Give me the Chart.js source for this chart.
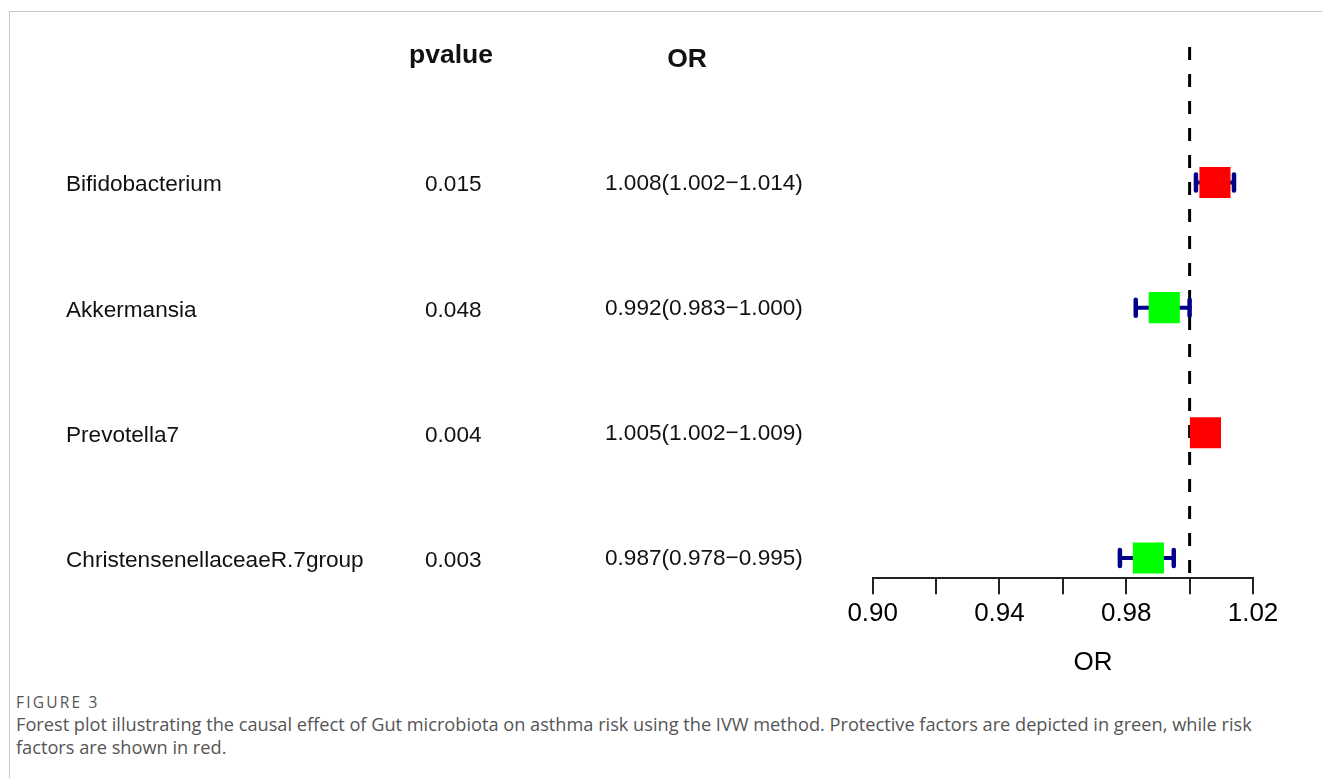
<!DOCTYPE html>
<html>
<head>
<meta charset="utf-8">
<script src="https://cdn.jsdelivr.net/npm/chart.js@4.4.1/dist/chart.umd.min.js"></script>
<style>
  html, body { margin: 0; padding: 0; background: #fff; width: 1322px; height: 778px; overflow: hidden; }
  #frame { position: absolute; left: 9px; top: 11px; width: 1320px; height: 780px;
           border-left: 1px solid #c6c6c6; border-top: 1px solid #c6c6c6; }
  #plot { position: absolute; left: 0; top: 0; width: 1322px; height: 690px; }
  #caption { position: absolute; left: 16px; top: 693px; width: 1290px;
             font-family: "Open Sans", "Noto Sans", sans-serif; color: #555; }
  #caption .fig { font-size: 15.5px; letter-spacing: 2.2px; line-height: 19px; }
  #caption .txt { font-size: 18.2px; line-height: 23px; margin-top: 1px; white-space: nowrap; }
</style>
</head>
<body>
<div id="frame"></div>
<div id="plot"><canvas id="forest" width="1322" height="690"></canvas></div>
<div id="caption">
  <div class="fig">FIGURE 3</div>
  <div class="txt">Forest plot illustrating the causal effect of Gut microbiota on asthma risk using the IVW method. Protective factors are depicted in green, while risk<br>factors are shown in red.</div>
</div>
<script>
// Forest plot data (IVW estimates)
const taxa = ['Bifidobacterium', 'Akkermansia', 'Prevotella7', 'ChristensenellaceaeR.7group'];
const pvalues = ['0.015', '0.048', '0.004', '0.003'];
const oddsRatios = [1.008, 0.992, 1.005, 0.987];
const ciLower = [1.002, 0.983, 1.002, 0.978];
const ciUpper = [1.014, 1.000, 1.009, 0.995];
const columnHeaders = ['pvalue', 'OR'];
const xAxisTitle = 'OR';
const xTickValues = [0.90, 0.92, 0.94, 0.96, 0.98, 1.00, 1.02];
const xTickLabels = ['0.90', '', '0.94', '', '0.98', '', '1.02'];
const nullEffect = 1.00;

const FONT = '"Liberation Sans", Arial, Helvetica, sans-serif';
const rowPos = taxa.map((_, i) => taxa.length - i);
const Y_MIN = 0.8375, Y_MAX = 5.0825;
const CANVAS_H = 690, AREA_BOTTOM = 578.3;

const fmt = v => v.toFixed(3);
const orLabel = i => fmt(oddsRatios[i]) + '(' + fmt(ciLower[i]) + '\u2212' + fmt(ciUpper[i]) + ')';

// Boxes: green for protective (OR < 1), red for risk
const boxes = {
  type: 'scatter',
  data: oddsRatios.map((v, i) => ({ x: v, y: rowPos[i] })),
  pointStyle: 'rect',
  pointRadius: 22,
  pointHoverRadius: 22,
  pointBackgroundColor: oddsRatios.map(v => v < 1 ? '#00ff00' : '#ff0000'),
  pointBorderWidth: 0,
  order: 0
};

// Confidence interval whiskers with end caps
const whiskers = taxa.map((_, i) => ({
  type: 'line',
  data: [{ x: ciLower[i], y: rowPos[i] }, { x: ciUpper[i], y: rowPos[i] }],
  borderColor: '#00008b',
  borderWidth: 4,
  borderCapStyle: 'round',
  pointStyle: 'line',
  rotation: 90,
  pointRadius: 8,
  pointHoverRadius: 8,
  pointBorderWidth: 4.5,
  pointBorderColor: '#00008b',
  order: 1,
  isWhisker: true
}));

// Dashed reference line at OR = 1
const refLine = {
  type: 'line',
  data: [{ x: nullEffect, y: Y_MAX }, { x: nullEffect, y: Y_MIN }],
  borderColor: '#000',
  borderWidth: 3,
  borderDash: [13, 14],
  pointRadius: 0,
  order: 2
};

const roundCaps = {
  id: 'roundCaps',
  beforeDatasetDraw(chart, args) {
    if (chart.data.datasets[args.index].isWhisker) chart.ctx.lineCap = 'round';
  },
  afterDatasetDraw(chart) { chart.ctx.lineCap = 'butt'; }
};

const tableText = {
  id: 'tableText',
  afterDraw(chart) {
    const ctx = chart.ctx;
    const ys = chart.scales.y;
    ctx.save();
    ctx.fillStyle = '#111';
    ctx.textBaseline = 'alphabetic';
    ctx.textAlign = 'center';
    ctx.font = 'bold 26.5px ' + FONT;
    ctx.fillText(columnHeaders[0], 451, 63);
    ctx.fillText(columnHeaders[1], 687, 67);
    ctx.textAlign = 'left';
    ctx.font = '22.6px ' + FONT;
    taxa.forEach((name, i) => {
      const py = ys.getPixelForValue(rowPos[i]);
      ctx.fillText(name, 66, py + 9);
      ctx.fillText(pvalues[i], 425, py + 9);
      ctx.fillText(orLabel(i), 605, py + 7.5);
    });
    ctx.textAlign = 'center';
    ctx.font = '26px ' + FONT;
    ctx.fillStyle = '#000';
    ctx.fillText(xAxisTitle, 1093, 670);
    ctx.restore();
  }
};

new Chart(document.getElementById('forest'), {
  type: 'scatter',
  data: { datasets: [boxes, ...whiskers, refLine] },
  options: {
    responsive: false,
    animation: false,
    events: [],
    layout: { padding: { left: 872.7, right: 69, top: 47, bottom: 0 } },
    plugins: { legend: { display: false }, tooltip: { enabled: false } },
    scales: {
      x: {
        type: 'linear',
        min: 0.90,
        max: 1.02,
        afterBuildTicks: s => { s.ticks = xTickValues.map(v => ({ value: v })); },
        afterFit: s => { s.height = CANVAS_H - AREA_BOTTOM; },
        ticks: {
          autoSkip: false,
          maxRotation: 0,
          padding: 4,
          color: '#000',
          font: { family: FONT, size: 26 },
          callback: (v, i) => xTickLabels[i]
        },
        grid: { drawOnChartArea: false, drawTicks: true, tickLength: 16, color: '#222', lineWidth: 2 },
        border: { display: true, color: '#222', width: 2 }
      },
      y: { type: 'linear', min: Y_MIN, max: Y_MAX, display: false }
    }
  },
  plugins: [roundCaps, tableText]
});
</script>
</body>
</html>
